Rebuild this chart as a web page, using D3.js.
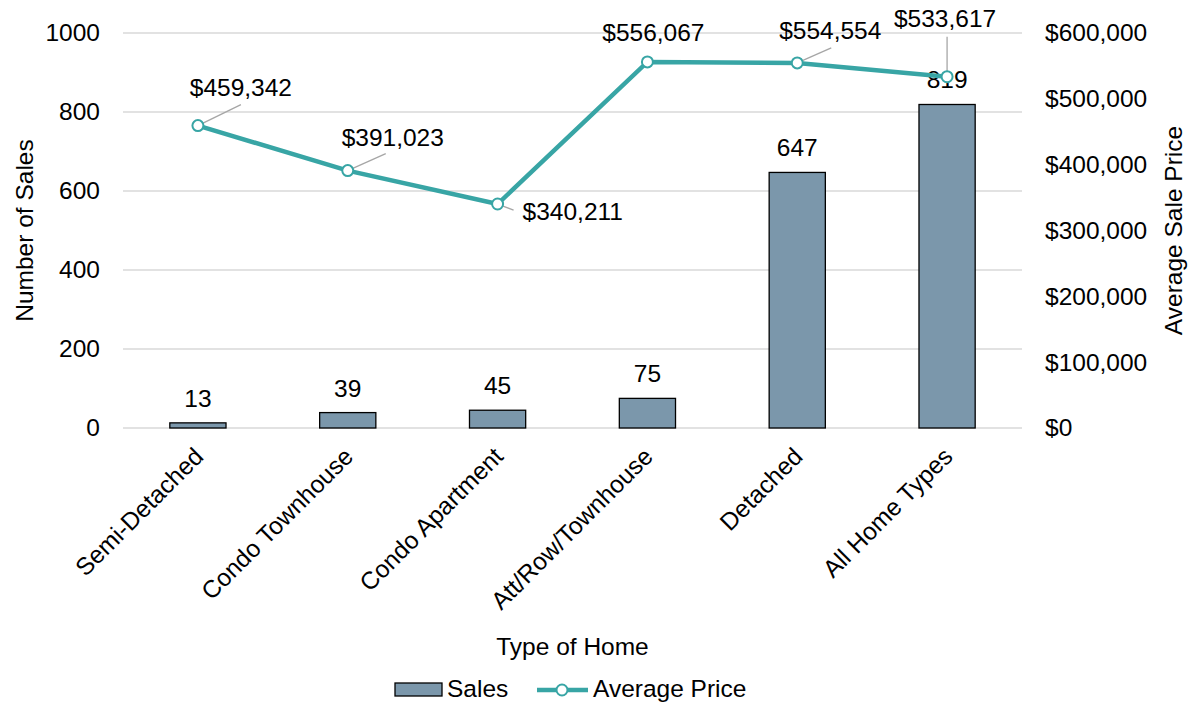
<!DOCTYPE html>
<html>
<head>
<meta charset="utf-8">
<script src="https://cdn.jsdelivr.net/npm/d3@7"></script>
<style>
  body { margin: 0; background: #fff; }
  text { font-family: "Liberation Sans", Arial, sans-serif; fill: #000; }
</style>
</head>
<body>
<svg id="chart" width="1193" height="705"></svg>
<script>
const categories = ["Semi-Detached", "Condo Townhouse", "Condo Apartment", "Att/Row/Townhouse", "Detached", "All Home Types"]
const sales = [13, 39, 45, 75, 647, 819]
const avgPrice = [459342, 391023, 340211, 556067, 554554, 533617]
const salesTicks = [0, 200, 400, 600, 800, 1000]
const priceTicks = [0, 100000, 200000, 300000, 400000, 500000, 600000]

// where each price label sits relative to its marker (text offset, leader line end)
const priceLabelPos = [
  {dx: 43, dy: -30, anchor: "middle", lx: 43, ly: -21},
  {dx: 45, dy: -25, anchor: "middle", lx: 38, ly: -17},
  {dx: 25, dy: 16, anchor: "start", lx: 16, ly: 6},
  {dx: 6, dy: -21, anchor: "middle", lx: null, ly: null},
  {dx: 33, dy: -24, anchor: "middle", lx: 34, ly: -15},
  {dx: -2, dy: -50, anchor: "middle", lx: 0, ly: -40}
]

const fontSize = "24.5px"
const barColor = "#7b97ab"
const lineColor = "#38a5a5"
const gridColor = "#d9d9d9"

const svg = d3.select("#chart")
const margin = {left: 123, right: 171, top: 33, bottom: 277}
const w = 1193 - margin.left - margin.right
const h = 705 - margin.top - margin.bottom

const g = svg.append("g").attr("transform", `translate(${margin.left},${margin.top})`)

const x = d3.scaleBand().domain(categories).range([0, w]).paddingInner(0.625).paddingOuter(0.3125)
const yL = d3.scaleLinear().domain([0, 1000]).range([h, 0])
const yR = d3.scaleLinear().domain([0, 600000]).range([h, 0])

// gridlines
g.append("g")
  .selectAll("line")
  .data(salesTicks)
  .enter()
  .append("line")
  .attr("x1", 0).attr("x2", w)
  .attr("y1", d => yL(d)).attr("y2", d => yL(d))
  .attr("stroke", gridColor).attr("stroke-width", 1.5)

// left axis
const leftAxis = g.append("g")
  .call(d3.axisLeft(yL).tickValues(salesTicks).tickSize(0).tickPadding(23).tickFormat(d3.format("d")))
leftAxis.select(".domain").remove()
leftAxis.selectAll("text").style("font-size", fontSize)

// right axis
const rightAxis = g.append("g").attr("transform", `translate(${w},0)`)
  .call(d3.axisRight(yR).tickValues(priceTicks).tickSize(0).tickPadding(23).tickFormat(d => "$" + d3.format(",")(d)))
rightAxis.select(".domain").remove()
rightAxis.selectAll("text").style("font-size", fontSize)

// category labels
const xAxis = g.append("g").attr("transform", `translate(0,${h})`)
  .call(d3.axisBottom(x).tickSize(0).tickPadding(0))
xAxis.select(".domain").remove()
xAxis.selectAll("text")
  .style("font-size", fontSize)
  .attr("text-anchor", "end")
  .attr("dy", null).attr("y", 0)
  .attr("transform", "translate(7,30) rotate(-45)")

// bars
g.append("g")
  .selectAll("rect")
  .data(sales)
  .enter()
  .append("rect")
  .attr("x", (d, i) => x(categories[i]))
  .attr("width", x.bandwidth())
  .attr("y", d => yL(d))
  .attr("height", d => h - yL(d))
  .attr("fill", barColor)
  .attr("stroke", "#000").attr("stroke-width", 1.3)

// bar labels
g.append("g")
  .selectAll("text")
  .data(sales)
  .enter()
  .append("text")
  .attr("x", (d, i) => x(categories[i]) + x.bandwidth() / 2)
  .attr("y", d => yL(d) - 16)
  .attr("text-anchor", "middle")
  .style("font-size", fontSize)
  .text(d => d)

const px = i => x(categories[i]) + x.bandwidth() / 2

// leader lines
const leaders = avgPrice.map((d, i) => ({d, i, p: priceLabelPos[i]})).filter(o => o.p.lx !== null)
g.append("g")
  .selectAll("line")
  .data(leaders)
  .enter()
  .append("line")
  .attr("x1", o => px(o.i))
  .attr("y1", o => yR(o.d))
  .attr("x2", o => px(o.i) + o.p.lx)
  .attr("y2", o => yR(o.d) + o.p.ly)
  .attr("stroke", "#a6a6a6").attr("stroke-width", 1.3)

// price line
const line = d3.line().x((d, i) => px(i)).y(d => yR(d))
g.append("path")
  .datum(avgPrice)
  .attr("d", line)
  .attr("fill", "none")
  .attr("stroke", lineColor)
  .attr("stroke-width", 4.5)

g.append("g")
  .selectAll("circle")
  .data(avgPrice)
  .enter()
  .append("circle")
  .attr("cx", (d, i) => px(i))
  .attr("cy", d => yR(d))
  .attr("r", 5.5)
  .attr("fill", "#fff")
  .attr("stroke", lineColor)
  .attr("stroke-width", 2)

// price labels
g.append("g")
  .selectAll("text")
  .data(avgPrice)
  .enter()
  .append("text")
  .attr("x", (d, i) => px(i) + priceLabelPos[i].dx)
  .attr("y", (d, i) => yR(d) + priceLabelPos[i].dy)
  .attr("text-anchor", (d, i) => priceLabelPos[i].anchor)
  .style("font-size", fontSize)
  .text(d => "$" + d3.format(",")(d))

// axis titles
svg.append("text")
  .attr("transform", `translate(33,${margin.top + h / 2}) rotate(-90)`)
  .attr("text-anchor", "middle")
  .style("font-size", fontSize)
  .text("Number of Sales")

svg.append("text")
  .attr("transform", `translate(1182,${margin.top + h / 2}) rotate(-90)`)
  .attr("text-anchor", "middle")
  .style("font-size", fontSize)
  .text("Average Sale Price")

svg.append("text")
  .attr("x", margin.left + w / 2)
  .attr("y", 655)
  .attr("text-anchor", "middle")
  .style("font-size", fontSize)
  .text("Type of Home")

// legend
const legend = svg.append("g").attr("transform", "translate(395,690)")
legend.append("rect").attr("x", 0).attr("y", -7).attr("width", 47).attr("height", 13)
  .attr("fill", barColor).attr("stroke", "#000").attr("stroke-width", 1.3)
legend.append("text").attr("x", 52).attr("y", 7).style("font-size", fontSize).text("Sales")
legend.append("line").attr("x1", 142).attr("x2", 193).attr("y1", 0).attr("y2", 0)
  .attr("stroke", lineColor).attr("stroke-width", 4.5)
legend.append("circle").attr("cx", 167).attr("cy", 0).attr("r", 5.5)
  .attr("fill", "#fff").attr("stroke", lineColor).attr("stroke-width", 2)
legend.append("text").attr("x", 198).attr("y", 7).style("font-size", fontSize).text("Average Price")
</script>
</body>
</html>
